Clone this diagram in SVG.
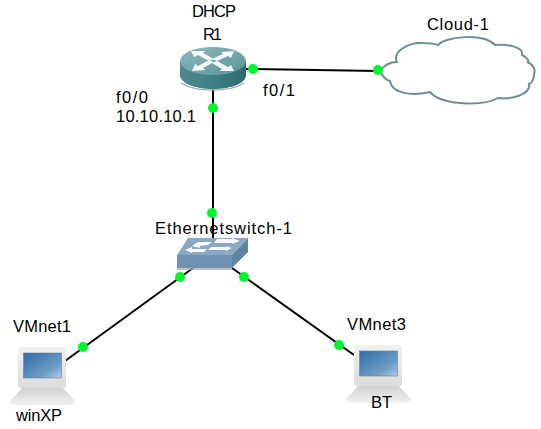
<svg xmlns="http://www.w3.org/2000/svg" width="541" height="429" viewBox="0 0 541 429">
<style>
text{font-family:"Liberation Sans","Noto Sans CJK KR",sans-serif;font-size:16.500px;fill:#000}
.l{stroke:#000;stroke-width:2;fill:none}
.d{fill:#00f52e}
.a{fill:#fff;opacity:.92}
</style>
<defs>
<linearGradient id="rs" x1="0" x2="1" y1="0" y2="0"><stop offset="0" stop-color="#4f8a90"/><stop offset=".5" stop-color="#3f7f85"/><stop offset="1" stop-color="#2f6a72"/></linearGradient>
<linearGradient id="rt" x1="0" x2="1" y1="0" y2="1"><stop offset="0" stop-color="#8db8bc"/><stop offset="1" stop-color="#5d9398"/></linearGradient>
<linearGradient id="sc" x1="0" x2="1" y1="0" y2="1"><stop offset="0" stop-color="#2f6fa8"/><stop offset=".7" stop-color="#6d9cc4"/><stop offset="1" stop-color="#b5cee2"/></linearGradient>
<linearGradient id="mo" x1="0" x2="0" y1="0" y2="1"><stop offset="0" stop-color="#f0f0f0"/><stop offset="1" stop-color="#dcdcdc"/></linearGradient>
<linearGradient id="ba" x1="0" x2="0" y1="0" y2="1"><stop offset="0" stop-color="#cfcfcf"/><stop offset="1" stop-color="#f2f2f2"/></linearGradient>
<g id="pc">
<path d="M5 40 H44 L57 54 Q57 58 50 58 H-3 Q-8 58 -8 54 Z" fill="url(#ba)"/>
<rect x="0" y="0" width="48" height="41" rx="3" fill="url(#mo)"/>
<rect x="5.500" y="6" width="38" height="25" fill="url(#sc)" stroke="#6a7f90" stroke-width=".6"/>
</g>
</defs>
<g id="connectors">
<line class="l" x1="246" y1="69" x2="378" y2="71"/>
<line class="l" x1="213" y1="88" x2="213" y2="240"/>
<line class="l" x1="193" y1="268" x2="65" y2="361"/>
<line class="l" x1="232" y1="268" x2="354" y2="355"/>
</g>
<g id="R1">
<path d="M180 61 V75 C180 83 194 89 213 89 C232 89 246 83 246 75 V61 Z" fill="url(#rs)"/>
<path d="M181 83 C187 87 198 90 213 90 C228 90 238 87 244 83" fill="none" stroke="#a9a9a9" stroke-width="1.500"/>
<ellipse cx="213" cy="61" rx="33" ry="14" fill="url(#rt)"/>
<path class="a" d="M191 51 L205 51 L203 53 L214 59 L209 61 L198 55 L194 57 Z"/>
<path class="a" d="M234 51 L221 52 L223 54 L212 59 L217 61 L228 56 L231 58 Z"/>
<path class="a" d="M192 71 L205 70 L203 68 L214 62 L209 60 L198 66 L195 64 Z"/>
<path class="a" d="M234 71 L220 71 L222 69 L212 63 L217 61 L228 67 L231 65 Z"/>
<text x="192" y="17" textLength="44">DHCP</text>
<text x="203" y="40" textLength="19">R1</text>
<text x="116" y="103" textLength="32">f0/0</text>
<text x="116" y="122" textLength="80">10.10.10.1</text>
<text x="263" y="96" textLength="32">f0/1</text>
</g>
<g id="Cloud-1">
<path d="M380 71 C385 64 390 62 397 62 C392 52 408 42 423 43 C430 43 435 44 438 45 C446 36 484 33 495 45 C508 44 524 47 522 55 C528 58 530 62 527 62 C533 64 536 70 534 74 C534 80 531 84 529 84 C531 94 512 100 498 98 C484 106 442 106 430 92 C412 96 392 94 390 81 C385 80 382 75 380 71 Z" fill="#fff" stroke="#6f8f96" stroke-width="2"/>
<text x="427" y="30" textLength="62">Cloud-1</text>
</g>
<g id="Ethernetswitch-1">
<polygon points="188,238 248,238 232,255 177,255" fill="#8aa8c4"/>
<polygon points="177,255 232,255 232,268 177,268" fill="#6f92b2"/>
<polygon points="232,255 248,238 248,252 232,268" fill="#5f83a3"/>
<line x1="177" y1="269" x2="232" y2="269" stroke="#a9a9a9" stroke-width="1.500"/>
<path class="a" d="M192 246 L198 242 H212 L208 245 L200 246 L200 248 Z"/>
<path class="a" d="M217 239 H232 V238 L240 241 L232 244 V243 H214 Z"/>
<path class="a" d="M185 250 L192 247 V249 H207 L204 252 H192 V253 Z"/>
<path class="a" d="M211 247 H226 V246 L232 248 L226 251 V250 H208 Z"/>
<text x="155" y="234" textLength="137">Ethernetswitch-1</text>
</g>
<g id="winXP">
<use href="#pc" x="18" y="347"/>
<text x="13" y="332" textLength="58">VMnet1</text>
<text x="16" y="421" textLength="46">winXP</text>
</g>
<g id="BT">
<use href="#pc" x="354" y="345"/>
<text x="347" y="330" textLength="59">VMnet3</text>
<text x="371" y="408" textLength="21">BT</text>
</g>
<g id="dots">
<circle class="d" cx="253" cy="69" r="5"/>
<circle class="d" cx="378" cy="70" r="5"/>
<circle class="d" cx="213" cy="108" r="5"/>
<circle class="d" cx="212" cy="213" r="5"/>
<circle class="d" cx="180" cy="277" r="5"/>
<circle class="d" cx="244" cy="277" r="5"/>
<circle class="d" cx="83" cy="347" r="5"/>
<circle class="d" cx="339" cy="345" r="5"/>
</g>
</svg>
